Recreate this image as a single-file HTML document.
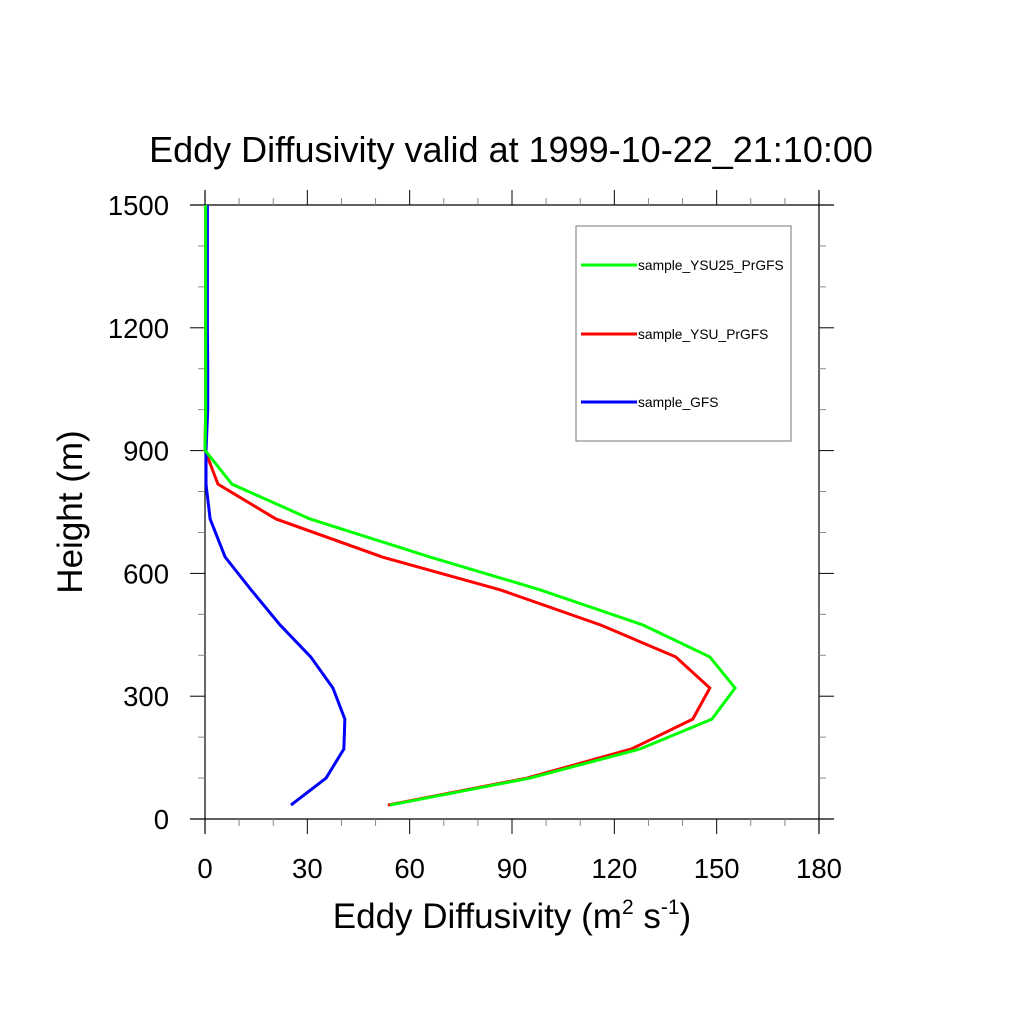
<!DOCTYPE html>
<html><head><meta charset="utf-8"><style>
html,body{margin:0;padding:0;background:#fff;}
svg text{font-family:"Liberation Sans",sans-serif;fill:#000;}
</style></head><body>
<svg id="chart" width="1024" height="1024" xmlns="http://www.w3.org/2000/svg">
<rect width="1024" height="1024" fill="#fff"/>
<text x="511" y="162" font-size="36" text-anchor="middle">Eddy Diffusivity valid at 1999-10-22_21:10:00</text>
<g id="axes"></g>
<g id="series"></g>
<text x="512" y="928" font-size="35" text-anchor="middle">Eddy Diffusivity (m<tspan font-size="21" dy="-14">2</tspan><tspan dy="14"> s</tspan><tspan font-size="21" dy="-14">-1</tspan><tspan dy="14">)</tspan></text>
<text transform="translate(82,512) rotate(-90)" font-size="35" text-anchor="middle">Height (m)</text>
<g>
<rect x="576" y="226" width="215" height="215" fill="none" stroke="#777" stroke-width="1"/>
<line x1="581" y1="265" x2="637" y2="265" stroke="#00ff00" stroke-width="3"/>
<text x="638" y="270" font-size="13.8">sample_YSU25_PrGFS</text>
<line x1="581" y1="334" x2="637" y2="334" stroke="#ff0000" stroke-width="3"/>
<text x="638" y="339" font-size="13.8">sample_YSU_PrGFS</text>
<line x1="581" y1="402" x2="637" y2="402" stroke="#0000ff" stroke-width="3"/>
<text x="638" y="407" font-size="13.8">sample_GFS</text>
</g>
</svg>
<script>
const heights = [34,100,171,244,320,396,474,560,640,733,818,901,1000,1100,1200,1300,1400,1500];
const ysu25 = [54.2,95.3,127.5,148.6,155.4,148,128.4,98.2,66,30.8,7.9,0,0.2,0.2,0.2,0.2,0.2,0.2];
const ysu = [53.6,94.4,125,143,148,138,116,86.5,52,20.8,3.8,0,0.2,0.2,0.2,0.2,0.2,0.2];
const gfs = [25.2,35.5,40.7,41,37.5,31,22,13.5,5.9,1.5,0.3,0.3,0.8,0.8,0.7,0.7,0.7,0.7];
const xTicks = [0,30,60,90,120,150,180];
const yTicks = [0,300,600,900,1200,1500];
const X0=205,X1=819,Y0=819,Y1=205;
const xs=v=>X0+(v/180)*(X1-X0);
const ys=v=>Y0-(v/1500)*(Y0-Y1);
const NS="http://www.w3.org/2000/svg";
const axes=document.getElementById('axes');
function mk(tag,attrs,parent){const e=document.createElementNS(NS,tag);for(const k in attrs)e.setAttribute(k,attrs[k]);parent.appendChild(e);return e;}
let l;
l=mk('line',{x1:190,y1:Y0,x2:834,y2:Y0,stroke:'#000','stroke-width':1.2},axes);


l=mk('line',{x1:190,y1:Y1,x2:834,y2:Y1,stroke:'#000','stroke-width':1.2},axes);


l=mk('line',{x1:X0,y1:190,x2:X0,y2:834,stroke:'#000','stroke-width':1.2},axes);


l=mk('line',{x1:X1,y1:190,x2:X1,y2:834,stroke:'#000','stroke-width':1.2},axes);


for(let v=0;v<=180;v+=10){const major=v%30===0;const len=major?15:7;const x=xs(v);
 mk('line',{x1:x,y1:Y0,x2:x,y2:Y0+len,stroke:major?'#000':'#888','stroke-width':1},axes);
 mk('line',{x1:x,y1:Y1,x2:x,y2:Y1-len,stroke:major?'#000':'#888','stroke-width':1},axes);}
for(let v=0;v<=1500;v+=100){const major=v%300===0;const len=major?15:7;const y=ys(v);
 mk('line',{x1:X0,y1:y,x2:X0-len,y2:y,stroke:major?'#000':'#888','stroke-width':1},axes);
 mk('line',{x1:X1,y1:y,x2:X1+len,y2:y,stroke:major?'#000':'#888','stroke-width':1},axes);}
xTicks.forEach(v=>{const t=mk('text',{x:xs(v),y:878,'font-size':27.5,'text-anchor':'middle'},axes);t.textContent=v;
 
 });
yTicks.forEach(v=>{const t=mk('text',{x:169,y:ys(v)+10,'font-size':27.5,'text-anchor':'end'},axes);t.textContent=v;
 
 });
const ser=document.getElementById('series');
[[ysu,'#ff0000','line-ysu'],[gfs,'#0000ff','line-gfs'],[ysu25,'#00ff00','line-ysu25']].forEach(([d,c,n])=>{
 const p=mk('polyline',{points:d.map((v,i)=>xs(v)+','+ys(heights[i])).join(' '),fill:'none',stroke:c,'stroke-width':3,'stroke-linejoin':'miter'},ser);
 
 });
</script>
</body></html>
